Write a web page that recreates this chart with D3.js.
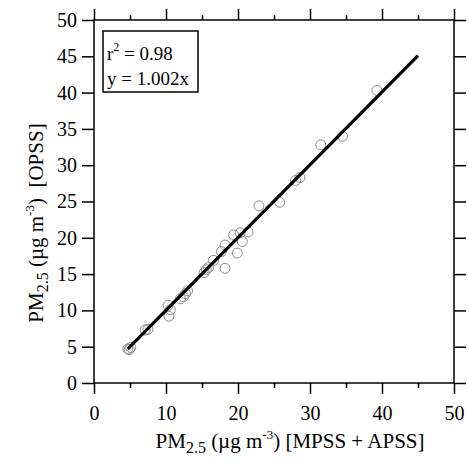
<!DOCTYPE html>
<html><head><meta charset="utf-8">
<script src="https://cdn.jsdelivr.net/npm/d3@7"></script>
<style>body{margin:0;background:#fff}svg{display:block}text{font-family:"Liberation Serif","Times New Roman",serif;fill:#000}</style>
</head><body>
<script>
const xVals = [4.7,4.9,5.1,7.1,7.5,10.3,10.4,10.6,12.0,12.4,12.7,13.0,15.3,15.6,15.9,16.6,18.2,17.7,18.2,19.4,19.9,20.6,20.3,21.4,22.9,25.8,28.0,28.6,31.5,34.5,39.3];
const yVals = [4.7,4.6,4.9,7.3,7.4,10.7,9.2,10.1,11.6,11.9,12.3,12.7,15.2,15.6,15.9,16.9,15.8,18.1,19.0,20.4,17.9,19.5,20.7,20.8,24.4,24.9,27.9,28.3,32.8,34.0,40.3];
const fitSlope = 1.002;
const fitRange = [4.7, 45];
const xMajorTicks = [0,10,20,30,40,50];
const xMinorTicks = [5,15,25,35,45];
const yTicks = [0,5,10,15,20,25,30,35,40,45,50];
const legendLines = ["r", " = 0.98", "y = 1.002x"];

const W = 468, H = 466;
const svg = d3.select("body").append("svg").attr("width", W).attr("height", H);
const x = d3.scaleLinear().domain([0,50]).range([94,454]);
const y = d3.scaleLinear().domain([0,50]).range([383,20]);

const fs = "20px";
svg.append("g").attr("transform",`translate(0,${y(0)})`)
  .call(d3.axisBottom(x).tickValues(xMajorTicks).tickSize(11).tickPadding(12).tickFormat(d3.format("d")));
svg.append("g").attr("transform",`translate(0,${y(0)})`)
  .call(d3.axisBottom(x).tickValues(xMinorTicks).tickSize(5).tickFormat(""));
svg.append("g").attr("transform",`translate(0,${y(50)})`)
  .call(d3.axisTop(x).tickValues(xMajorTicks).tickSize(11).tickFormat(""));
svg.append("g").attr("transform",`translate(0,${y(50)})`)
  .call(d3.axisTop(x).tickValues(xMinorTicks).tickSize(5).tickFormat(""));
svg.append("g").attr("transform",`translate(${x(0)},0)`)
  .call(d3.axisLeft(y).tickValues(yTicks).tickSize(12).tickPadding(5).tickFormat(d3.format("d")));
svg.append("g").attr("transform",`translate(${x(50)},0)`)
  .call(d3.axisRight(y).tickValues(yTicks).tickSize(12).tickFormat(""));
svg.selectAll(".domain").remove();
svg.selectAll(".tick line").attr("stroke","#000").attr("stroke-width",1.5);
svg.selectAll(".tick text").style("font-size",fs).style("font-family",'"Liberation Serif",serif').attr("fill","#000");
svg.append("rect").attr("x",x(0)).attr("y",y(50)).attr("width",x(50)-x(0)).attr("height",y(0)-y(50))
  .attr("fill","none").attr("stroke","#000").attr("stroke-width",1.5);

// points
svg.append("g").selectAll("circle").data(xVals.map((v,i)=>[v,yVals[i]])).join("circle")
  .attr("cx",d=>x(d[0])).attr("cy",d=>y(d[1])).attr("r",5)
  .attr("fill","none").attr("stroke","#8c8c8c").attr("stroke-width",1);

// fit line
svg.append("line").attr("x1",x(fitRange[0])).attr("y1",y(fitSlope*fitRange[0]))
  .attr("x2",x(fitRange[1])).attr("y2",y(fitSlope*fitRange[1]))
  .attr("stroke","#000").attr("stroke-width",3.2);

// legend
svg.append("rect").attr("x",103).attr("y",31).attr("width",95).attr("height",61)
  .attr("fill","#fff").attr("stroke","#000").attr("stroke-width",1.5);
const l1 = svg.append("text").attr("x",107).attr("y",60).style("font-size","19px");
l1.append("tspan").text(legendLines[0]);
l1.append("tspan").text("2").attr("dy",-9).style("font-size","12px");
l1.append("tspan").text(legendLines[1]).attr("dy",9);
svg.append("text").attr("x",107).attr("y",85).style("font-size","19px").text(legendLines[2]);

// x title
const xt = svg.append("text").attr("x",290).attr("y",448).attr("text-anchor","middle").style("font-size","21px");
xt.append("tspan").text("PM");
xt.append("tspan").text("2.5").attr("dy",5).style("font-size","16px");
xt.append("tspan").text(" (µg m").attr("dy",-5);
xt.append("tspan").text("-3").attr("dy",-9).style("font-size","13px");
xt.append("tspan").text(") [MPSS + APSS]").attr("dy",9);

// y title
const yt = svg.append("text").attr("transform",`translate(43,223) rotate(-90)`).attr("text-anchor","middle").style("font-size","21px");
yt.append("tspan").text("PM");
yt.append("tspan").text("2.5").attr("dy",5).style("font-size","16px");
yt.append("tspan").text(" (µg m").attr("dy",-5);
yt.append("tspan").text("-3").attr("dy",-9).style("font-size","13px");
yt.append("tspan").text(")\u00a0\u00a0[OPSS]").attr("dy",9);
</script>
</body></html>
